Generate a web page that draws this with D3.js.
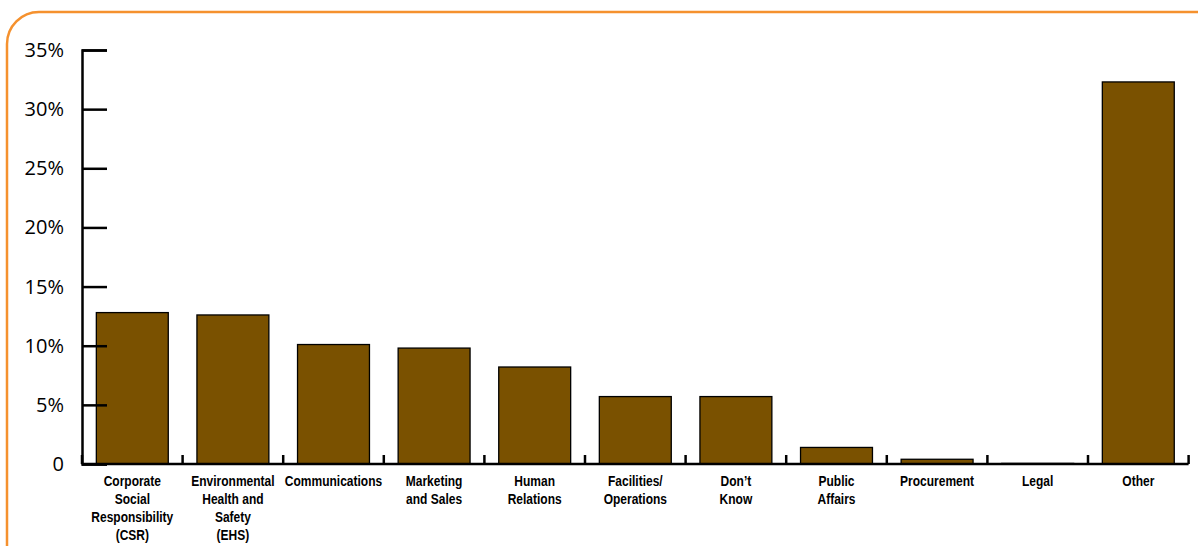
<!DOCTYPE html>
<html><head><meta charset="utf-8">
<script src="https://cdn.jsdelivr.net/npm/d3@7"></script>
<style>body{margin:0;background:#fff}svg{display:block}</style>
</head><body>
<svg id="c" width="1198" height="546"></svg>
<script>
const categories = [
  ["Corporate","Social","Responsibility","(CSR)"],
  ["Environmental","Health and","Safety","(EHS)"],
  ["Communications"],
  ["Marketing","and Sales"],
  ["Human","Relations"],
  ["Facilities/","Operations"],
  ["Don\u2019t","Know"],
  ["Public","Affairs"],
  ["Procurement"],
  ["Legal"],
  ["Other"]
];
const values = [12.8, 12.6, 10.1, 9.8, 8.2, 5.7, 5.7, 1.4, 0.4, 0.05, 32.3];
const yTicks = [0, 5, 10, 15, 20, 25, 30, 35];
const yTickLabels = ["0", "5%", "10%", "15%", "20%", "25%", "30%", "35%"];

const svg = d3.select("#c");
// orange rounded frame
svg.append("rect").attr("x", 7).attr("y", 12).attr("width", 1230).attr("height", 600)
  .attr("rx", 32).attr("fill", "none").attr("stroke", "#f5912e").attr("stroke-width", 2.5);

const x0 = 82, x1 = 1188.6, yBase = 464, yTop = 50;
const keys = categories.map((d, i) => i);
const x = d3.scaleBand().domain(keys).range([x0, x1]).paddingInner(0.285).paddingOuter(0.1425);
const y = d3.scaleLinear().domain([0, 35]).range([yBase, yTop]);

// bars
svg.append("g").selectAll("rect").data(values).join("rect")
  .attr("x", (d, i) => x(i))
  .attr("width", x.bandwidth())
  .attr("y", d => y(d))
  .attr("height", d => yBase - y(d))
  .attr("fill", "#7a5100")
  .attr("stroke", "#000").attr("stroke-width", 1.3);

// y axis
const yAxis = d3.axisRight(y).tickValues(yTicks).tickSize(25).tickFormat(() => "");
const gy = svg.append("g").attr("transform", `translate(${x0},0)`).call(yAxis);
gy.select(".domain").attr("stroke", "#000").attr("stroke-width", 2.5);
gy.selectAll(".tick line").attr("stroke", "#000").attr("stroke-width", 2.5);

svg.append("g").selectAll("text").data(yTicks).join("text")
  .attr("x", 64).attr("y", d => y(d) + 7)
  .attr("text-anchor", "end")
  .attr("font-family", "Open Sans, sans-serif").attr("font-size", 20).attr("fill", "#000")
  .text((d, i) => yTickLabels[i]);

// x axis line and ticks at band boundaries
const step = x.step();
const boundaries = d3.range(categories.length + 1).map(i => x0 + i * step);
svg.append("line").attr("x1", x0).attr("x2", x1).attr("y1", yBase).attr("y2", yBase)
  .attr("stroke", "#000").attr("stroke-width", 2.5);
svg.append("g").selectAll("line").data(boundaries).join("line")
  .attr("x1", d => d).attr("x2", d => d).attr("y1", yBase).attr("y2", yBase - 9)
  .attr("stroke", "#000").attr("stroke-width", 2.5);

// x labels (condensed look)
const lab = svg.append("g").selectAll("text").data(categories).join("text")
  .attr("text-anchor", "middle")
  .attr("font-family", "Liberation Sans, Arial, sans-serif")
  .attr("font-weight", "bold").attr("font-size", 15).attr("fill", "#000")
  .attr("transform", (d, i) => `translate(${x(i) + x.bandwidth() / 2},486) scale(0.8,1)`);
lab.selectAll("tspan").data(d => d).join("tspan")
  .attr("x", 0).attr("dy", (d, i) => i === 0 ? 0 : 18).text(d => d);
</script>
</body></html>
